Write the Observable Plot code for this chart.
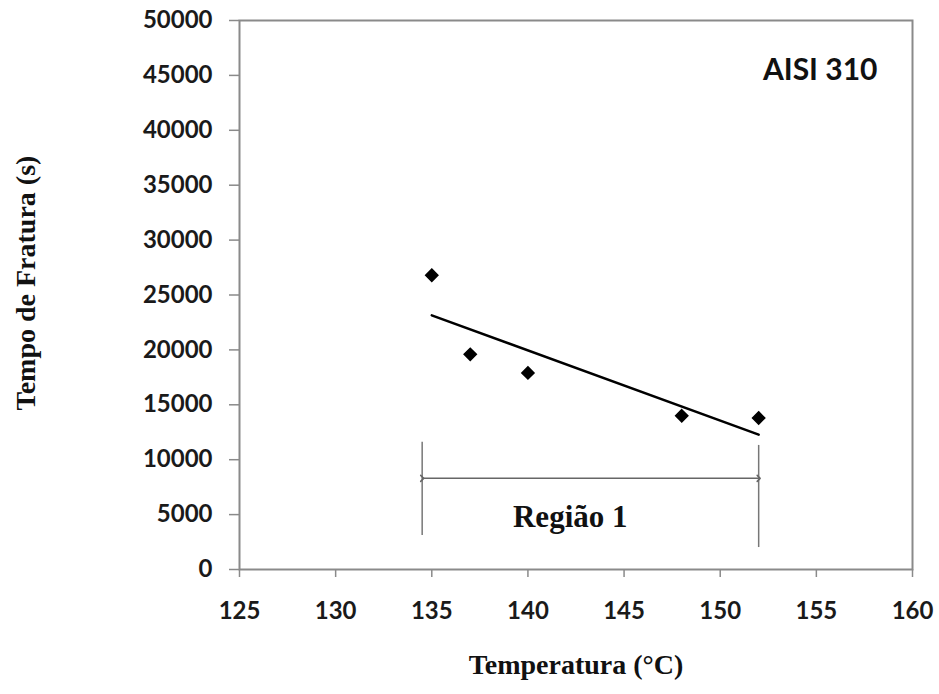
<!DOCTYPE html>
<html>
<head>
<meta charset="utf-8">
<script src="https://cdn.jsdelivr.net/npm/d3@7"></script>
<script src="https://cdn.jsdelivr.net/npm/@observablehq/plot@0.6"></script>
<style>
  body { margin: 0; background: #fff; }
</style>
</head>
<body>
<div id="chart"></div>
<script>
// Data
const temperatures = [135, 137, 140, 148, 152];
const fractureTimes = [26800, 19600, 17900, 14000, 13800];
const xTicks = [125, 130, 135, 140, 145, 150, 155, 160];
const yTicks = [0, 5000, 10000, 15000, 20000, 25000, 30000, 35000, 40000, 45000, 50000];

// Annotation (Região 1) in data units
const regionX = [134.5, 152];
const regionYBottom = [3100, 2000];
const regionYTop = [11600, 11300];
const regionArrowY = [8300];
const regionLabel = ["Região 1"];
const regionLabelPos = [142.2, 4800];
const alloyLabel = ["AISI 310"];
const alloyLabelPos = [155.2, 45500];

const points = temperatures.map((t, i) => ({t, s: fractureTimes[i]}));
const regionLines = regionX.map((x, i) => ({x, y1: regionYBottom[i], y2: regionYTop[i]}));
const regionArrow = [{x1: regionX[0], x2: regionX[1], y: regionArrowY[0]}];

const sans = "Lato, 'Open Sans', sans-serif";
const serif = "'Liberation Serif', 'DejaVu Serif', serif";
const grey = "#8a8a8a";

const chart = Plot.plot({
  width: 939,
  height: 694,
  marginLeft: 239,
  marginRight: 27,
  marginTop: 20,
  marginBottom: 125,
  style: {fontFamily: sans, background: "#fff", color: "#111"},
  x: {domain: [125, 160]},
  y: {domain: [0, 50000]},
  marks: [
    Plot.axisX({ticks: xTicks, tickSize: 8, tickPadding: 24, stroke: grey, strokeWidth: 1.5,
      fontSize: 24, fontWeight: "bold", fontFamily: sans, fill: "#1a1a1a", label: null, tickFormat: d => String(d)}),
    Plot.axisY({ticks: yTicks, tickSize: 10, tickPadding: 17, stroke: grey, strokeWidth: 1.5,
      fontSize: 24, fontWeight: "bold", fontFamily: sans, fill: "#1a1a1a", label: null, tickFormat: d => String(d)}),
    Plot.frame({stroke: grey, strokeWidth: 2}),
    Plot.linearRegressionY(points, {x: "t", y: "s", stroke: "#000", strokeWidth: 2.5, ci: 0}),
    Plot.dot(points, {x: "t", y: "s", symbol: "diamond2", fill: "#000", stroke: "#000", r: 5.5}),
    Plot.ruleX(regionLines, {x: "x", y1: "y1", y2: "y2", stroke: "#777", strokeWidth: 1.5}),
    Plot.link(regionArrow, {x1: "x1", x2: "x2", y1: "y", y2: "y", stroke: "#666", strokeWidth: 1.5,
      markerStart: "arrow", markerEnd: "arrow"}),
    Plot.text(regionLabel, {x: () => regionLabelPos[0], y: () => regionLabelPos[1], text: d => d,
      fontFamily: serif, fontWeight: "bold", fontSize: 31, fill: "#111"}),
    Plot.text(alloyLabel, {x: () => alloyLabelPos[0], y: () => alloyLabelPos[1], text: d => d,
      fontFamily: sans, fontWeight: "bold", fontSize: 30, fill: "#111"}),
    Plot.text(["Temperatura (°C)"], {frameAnchor: "bottom", textAnchor: "middle", dy: 104, text: d => d,
      fontFamily: serif, fontWeight: "bold", fontSize: 28, fill: "#111"}),
    Plot.text(["Tempo de Fratura (s)"], {frameAnchor: "left", textAnchor: "middle", dx: -213, dy: -12, rotate: -90, text: d => d,
      fontFamily: serif, fontWeight: "bold", fontSize: 28, fill: "#111"})
  ]
});
document.getElementById("chart").appendChild(chart);
</script>
</body>
</html>
